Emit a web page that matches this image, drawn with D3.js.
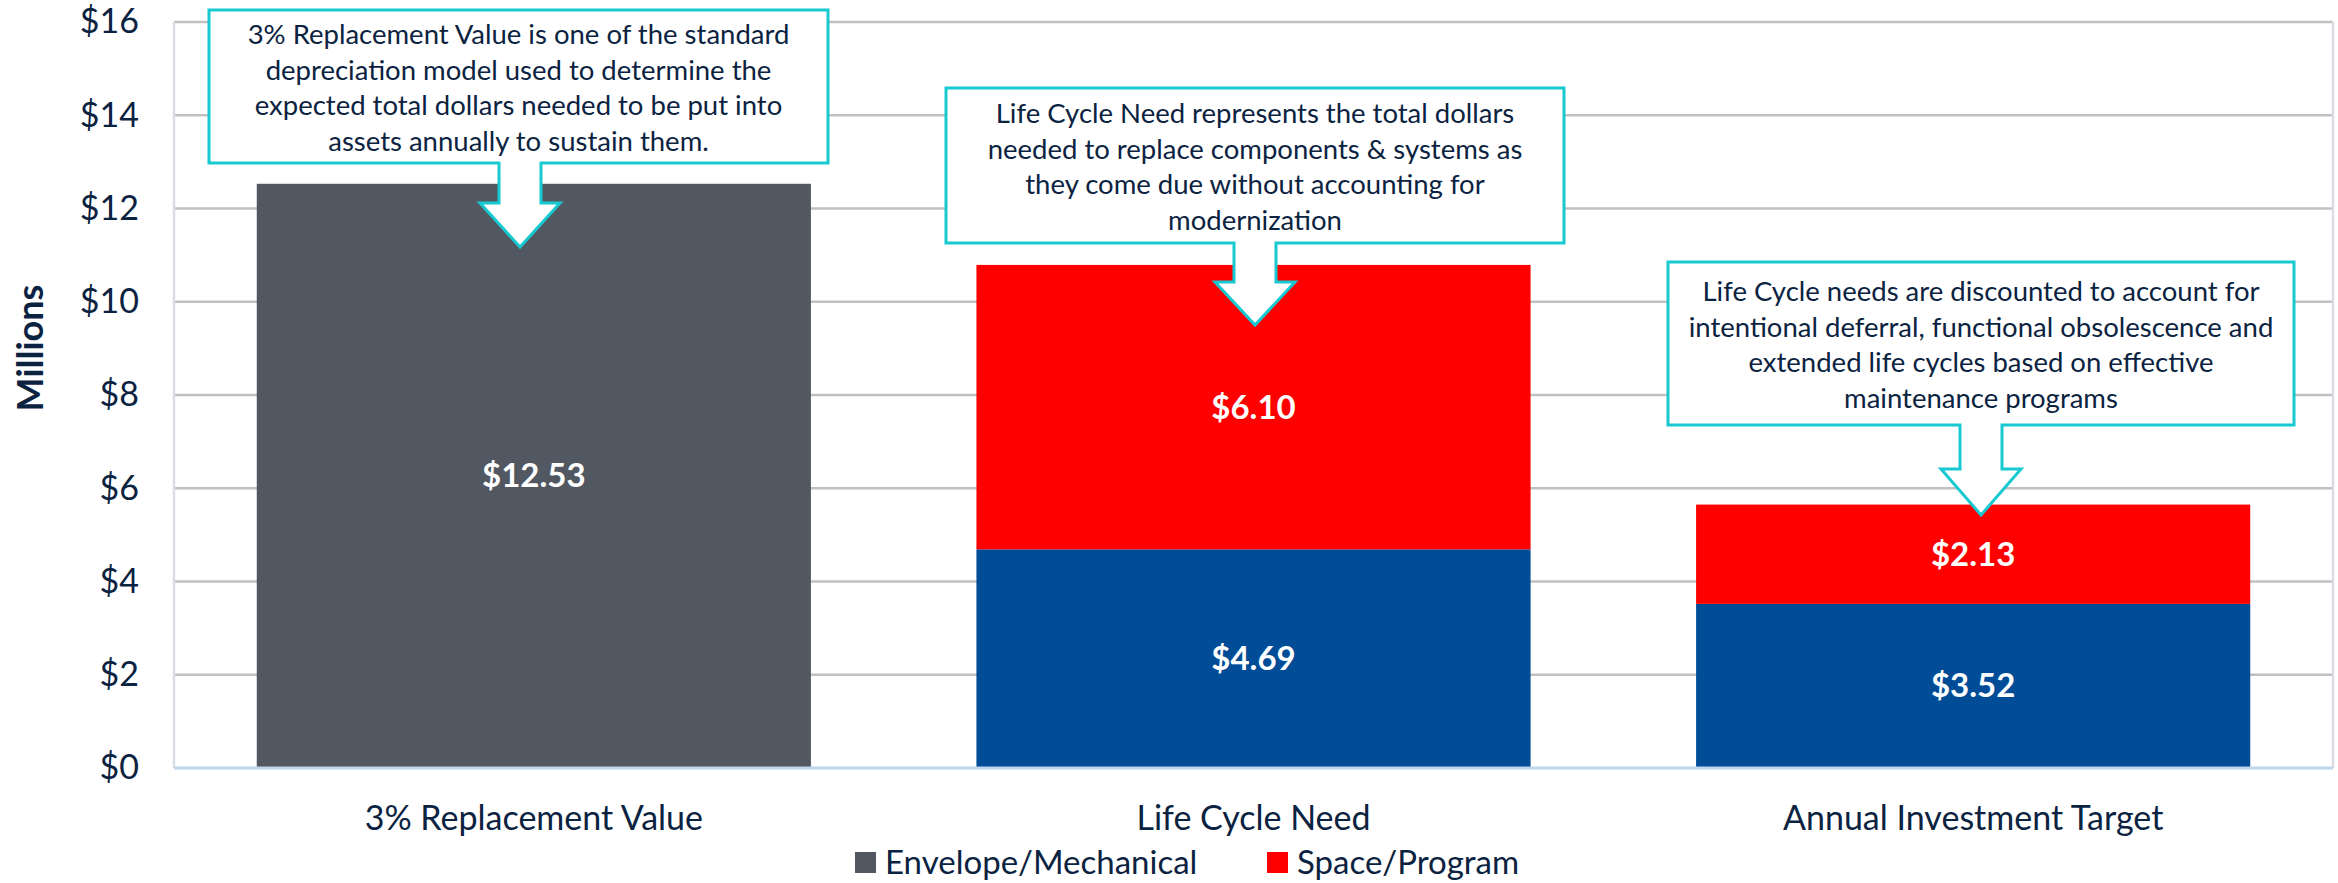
<!DOCTYPE html>
<html>
<head>
<meta charset="utf-8">
<script src="https://cdn.jsdelivr.net/npm/d3@7"></script>
<style>
  body { margin: 0; background: #fff; }
  text { font-family: Lato, "Open Sans", sans-serif; fill: #0b2341; }
</style>
</head>
<body>
<svg id="CHART" width="2338" height="883"></svg>
<script>
// chart values
var categories = ["3% Replacement Value", "Life Cycle Need", "Annual Investment Target"];
var seriesNames = ["Envelope/Mechanical", "Space/Program"];
var envelopeValues = [12.53, 4.69, 3.52];
var spaceValues = [0, 6.10, 2.13];
var yTickValues = [0, 2, 4, 6, 8, 10, 12, 14, 16];
var noteLines = [
  ["3% Replacement Value is one of the standard",
   "depreciation model used to determine the",
   "expected total dollars needed to be put into",
   "assets annually to sustain them."],
  ["Life Cycle Need represents the total dollars",
   "needed to replace components & systems as",
   "they come due without accounting for",
   "modernization"],
  ["Life Cycle needs are discounted to account for",
   "intentional deferral, functional obsolescence and",
   "extended life cycles based on effective",
   "maintenance programs"]
];

var envelopeColors = ["#525861", "#004c97", "#004c97"];
var spaceColor = "#ff0000";
var calloutColor = "#17c9d0";

var MARGIN = { LEFT: 174, RIGHT: 5, TOP: 22, BOTTOM: 115 };
var width = 2338, height = 883;

// callout boxes (pixel layout of the annotations)
var NOTE_BOX = [
  { x0: 209, y0: 10, x1: 828, y1: 163, cx: 520, headTop: 203, tip: 247 },
  { x0: 946, y0: 88, x1: 1564, y1: 243, cx: 1255, headTop: 282, tip: 325 },
  { x0: 1668, y0: 262, x1: 2294, y1: 425, cx: 1981, headTop: 469, tip: 515 }
];

var svg = d3.select("#CHART");

var x = d3.scaleBand()
  .domain(categories)
  .range([MARGIN.LEFT, width - MARGIN.RIGHT])
  .paddingInner(0.23)
  .paddingOuter(0.115);

var y = d3.scaleLinear()
  .domain([0, 16])
  .range([height - MARGIN.BOTTOM, MARGIN.TOP]);

// gridlines
svg.append("g")
  .selectAll("line")
  .data(yTickValues.slice(1))
  .join("line")
  .attr("x1", MARGIN.LEFT)
  .attr("x2", width - MARGIN.RIGHT)
  .attr("y1", function(d) { return y(d); })
  .attr("y2", function(d) { return y(d); })
  .attr("stroke", "#c0c0c0")
  .attr("stroke-width", 2.5);

// plot border sides
svg.append("line")
  .attr("x1", MARGIN.LEFT).attr("x2", MARGIN.LEFT)
  .attr("y1", y(16)).attr("y2", y(0))
  .attr("stroke", "#d9dde2").attr("stroke-width", 2.5);
svg.append("line")
  .attr("x1", width - MARGIN.RIGHT).attr("x2", width - MARGIN.RIGHT)
  .attr("y1", y(16)).attr("y2", y(0))
  .attr("stroke", "#d9dde2").attr("stroke-width", 2.5);

// y axis
var yAxis = d3.axisLeft(y)
  .tickValues(yTickValues)
  .tickSize(0)
  .tickPadding(35)
  .tickFormat(function(d) { return "$" + d; });

svg.append("g")
  .attr("class", "y axis")
  .attr("transform", "translate(" + MARGIN.LEFT + ",0)")
  .call(yAxis)
  .call(function(g) { g.select(".domain").remove(); })
  .selectAll("text")
  .style("font-family", "Lato, sans-serif")
  .style("font-size", "34px")
  .attr("fill", "#0b2341");

svg.append("text")
  .attr("transform", "translate(43,348) rotate(-90)")
  .attr("text-anchor", "middle")
  .style("font-size", "36px")
  .style("font-weight", "bold")
  .text("Millions");

// stacked bars
var rows = categories.map(function(c, i) {
  return { cat: c, env: envelopeValues[i], space: spaceValues[i], color: envelopeColors[i] };
});

var bars = svg.append("g");

bars.selectAll(".env")
  .data(rows)
  .join("rect")
  .attr("class", "env")
  .attr("x", function(d) { return x(d.cat); })
  .attr("width", x.bandwidth())
  .attr("y", function(d) { return y(d.env); })
  .attr("height", function(d) { return y(0) - y(d.env); })
  .attr("fill", function(d) { return d.color; });

bars.selectAll(".space")
  .data(rows.filter(function(d) { return d.space > 0; }))
  .join("rect")
  .attr("class", "space")
  .attr("x", function(d) { return x(d.cat); })
  .attr("width", x.bandwidth())
  .attr("y", function(d) { return y(d.env + d.space); })
  .attr("height", function(d) { return y(d.env) - y(d.env + d.space); })
  .attr("fill", spaceColor);

// value labels
var labels = [];
rows.forEach(function(d) {
  labels.push({ cat: d.cat, mid: d.env / 2, v: d.env });
  if (d.space > 0) labels.push({ cat: d.cat, mid: d.env + d.space / 2, v: d.space });
});

svg.append("g")
  .selectAll("text")
  .data(labels)
  .join("text")
  .attr("x", function(d) { return x(d.cat) + x.bandwidth() / 2; })
  .attr("y", function(d) { return y(d.mid); })
  .attr("dy", "0.35em")
  .attr("text-anchor", "middle")
  .style("font-size", "33px")
  .style("font-weight", "bold")
  .style("fill", "#fff")
  .text(function(d) { return "$" + d.v.toFixed(2); });

// bottom axis line
svg.append("line")
  .attr("x1", MARGIN.LEFT).attr("x2", width - MARGIN.RIGHT)
  .attr("y1", y(0)).attr("y2", y(0))
  .attr("stroke", "#bdd7ee").attr("stroke-width", 3);

// x axis labels
var xAxis = d3.axisBottom(x).tickSize(0).tickPadding(38);
svg.append("g")
  .attr("class", "x axis")
  .attr("transform", "translate(0," + y(0) + ")")
  .call(xAxis)
  .call(function(g) { g.select(".domain").remove(); })
  .selectAll("text")
  .style("font-family", "Lato, sans-serif")
  .style("font-size", "34px")
  .attr("fill", "#0b2341");

// legend
var legendItems = [
  { name: seriesNames[0], color: envelopeColors[0], x: 855 },
  { name: seriesNames[1], color: spaceColor, x: 1267 }
];
var legend = svg.append("g").selectAll("g")
  .data(legendItems)
  .join("g")
  .attr("transform", function(d) { return "translate(" + d.x + ",862)"; });
legend.append("rect")
  .attr("x", 0).attr("y", -10).attr("width", 21).attr("height", 21)
  .attr("fill", function(d) { return d.color; });
legend.append("text")
  .attr("x", 30).attr("dy", "0.35em")
  .style("font-size", "33px")
  .text(function(d) { return d.name; });

// callouts
var sw = 21, hw = 40;
var notes = svg.append("g").selectAll("g")
  .data(NOTE_BOX)
  .join("g");

notes.append("path")
  .attr("d", function(b) {
    return "M" + b.x0 + "," + b.y0 + "H" + b.x1 + "V" + b.y1 +
      "H" + (b.cx + sw) + "V" + b.headTop + "H" + (b.cx + hw) +
      "L" + b.cx + "," + b.tip + "L" + (b.cx - hw) + "," + b.headTop +
      "H" + (b.cx - sw) + "V" + b.y1 + "H" + b.x0 + "Z";
  })
  .attr("fill", "#fff")
  .attr("stroke", calloutColor)
  .attr("stroke-width", 3);

notes.each(function(b, i) {
  var lines = noteLines[i];
  var lh = 35.6;
  var mid = (b.y0 + b.y1) / 2 + 1.5;
  var top = mid - (lines.length - 1) * lh / 2;
  d3.select(this).selectAll("text")
    .data(lines)
    .join("text")
    .attr("x", (b.x0 + b.x1) / 2)
    .attr("y", function(d, j) { return top + j * lh; })
    .attr("dy", "0.35em")
    .attr("text-anchor", "middle")
    .style("font-size", "27.5px")
    .text(function(d) { return d; });
});
</script>
</body>
</html>
